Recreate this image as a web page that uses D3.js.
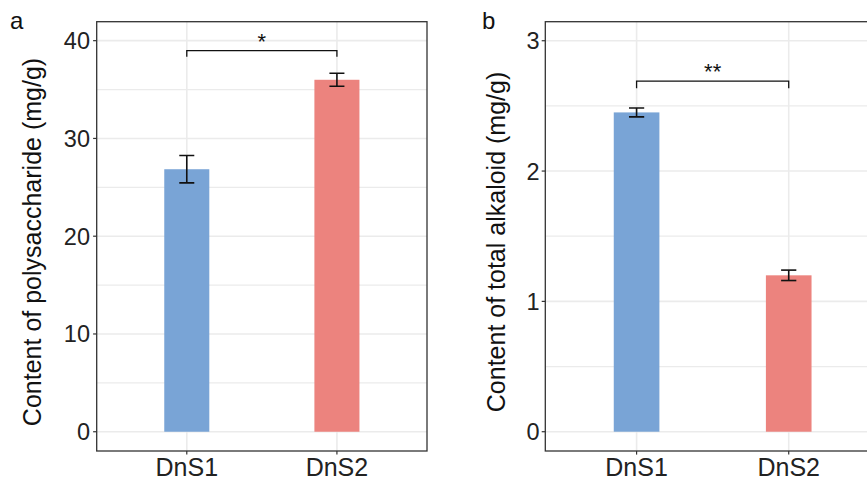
<!DOCTYPE html>
<html lang="en">
<head>
  <meta charset="UTF-8">
  <title>DnS1 vs DnS2 content</title>
  <script src="https://d3js.org/d3.v7.min.js"></script>
  <style>
    * { margin: 0; padding: 0; box-sizing: border-box; }
    body { width: 867px; height: 480px; background: #fff; overflow: hidden; }
    svg { font-family: "Liberation Sans", Arial, sans-serif; }
  </style>
</head>
<body>
  <div id="chart"></div>

  <script>
    // Data
    const categories = ['DnS1', 'DnS2'];
    const barColors = ['#79a4d6', '#ec837e'];

    const polyMean = [26.85, 36.0];
    const polySE = [1.4, 0.66];
    const polyTicks = [0, 10, 20, 30, 40];

    const alkMean = [2.45, 1.20];
    const alkSE = [0.034, 0.04];
    const alkTicks = [0, 1, 2, 3];

    const panels = [
      { tag: 'a', title: 'Content of polysaccharide (mg/g)', mean: polyMean, se: polySE, ticks: polyTicks,
        domain: [-1.97, 41.94], sig: '*', bracketY: 38.98, bracketDrop: 0.62,
        x0: 96.7, x1: 427, labelX: 10, titleX: 41, tickX: 90 },
      { tag: 'b', title: 'Content of total alkaloid (mg/g)', mean: alkMean, se: alkSE, ticks: alkTicks,
        domain: [-0.148, 3.146], sig: '**', bracketY: 2.69, bracketDrop: 0.055,
        x0: 545.3, x1: 880, labelX: 482, titleX: 505, tickX: 539.5 }
    ];

    const width = 867, height = 480;
    const plotTop = 21.7, plotBottom = 451;

    const svg = d3.select('#chart').append('svg')
      .attr('width', width)
      .attr('height', height);

    panels.forEach(p => {
      const g = svg.append('g');

      const x = d3.scalePoint().domain(categories).range([p.x0, p.x1]).padding(0.6);
      const y = d3.scaleLinear().domain(p.domain).range([plotBottom, plotTop]);
      const step = x.step();

      // clip so the right panel runs off the edge like the original
      const clipId = 'clip-' + p.tag;
      g.append('clipPath').attr('id', clipId)
        .append('rect').attr('x', p.x0).attr('y', plotTop).attr('width', p.x1 - p.x0).attr('height', plotBottom - plotTop);
      const plot = g.append('g').attr('clip-path', `url(#${clipId})`);

      // minor grid
      const minor = p.ticks.slice(0, -1).map((t, i) => (t + p.ticks[i + 1]) / 2);
      plot.selectAll('.minor').data(minor).enter().append('line')
        .attr('x1', p.x0).attr('x2', p.x1)
        .attr('y1', d => y(d)).attr('y2', d => y(d))
        .attr('stroke', '#ebebeb').attr('stroke-width', 1.3);

      // major grid
      plot.selectAll('.major').data(p.ticks).enter().append('line')
        .attr('x1', p.x0).attr('x2', p.x1)
        .attr('y1', d => y(d)).attr('y2', d => y(d))
        .attr('stroke', '#ebebeb').attr('stroke-width', 1.6);
      plot.selectAll('.vgrid').data(categories).enter().append('line')
        .attr('x1', d => x(d)).attr('x2', d => x(d))
        .attr('y1', plotTop).attr('y2', plotBottom)
        .attr('stroke', '#ebebeb').attr('stroke-width', 1.6);

      // bars
      const bw = step * 0.3;
      plot.selectAll('.bar').data(categories).enter().append('rect')
        .attr('x', d => x(d) - bw / 2)
        .attr('width', bw)
        .attr('y', (d, i) => y(p.mean[i]))
        .attr('height', (d, i) => y(0) - y(p.mean[i]))
        .attr('fill', (d, i) => barColors[i]);

      // error bars
      const cw = step * 0.1;
      categories.forEach((c, i) => {
        const hi = y(p.mean[i] + p.se[i]), lo = y(p.mean[i] - p.se[i]);
        const eb = plot.append('g').attr('stroke', '#111').attr('stroke-width', 1.6);
        eb.append('line').attr('x1', x(c)).attr('x2', x(c)).attr('y1', hi).attr('y2', lo);
        eb.append('line').attr('x1', x(c) - cw / 2).attr('x2', x(c) + cw / 2).attr('y1', hi).attr('y2', hi);
        eb.append('line').attr('x1', x(c) - cw / 2).attr('x2', x(c) + cw / 2).attr('y1', lo).attr('y2', lo);
      });

      // significance bracket
      const bx1 = x(categories[0]), bx2 = x(categories[1]);
      const by = y(p.bracketY), byd = y(p.bracketY - p.bracketDrop);
      plot.append('path')
        .attr('d', `M${bx1},${byd}V${by}H${bx2}V${byd}`)
        .attr('fill', 'none').attr('stroke', '#111').attr('stroke-width', 1.3);
      plot.append('text')
        .attr('x', (bx1 + bx2) / 2).attr('y', by - 2)
        .attr('text-anchor', 'middle')
        .attr('font-size', 22).attr('fill', '#111')
        .text(p.sig);

      // panel border
      g.append('rect')
        .attr('x', p.x0).attr('y', plotTop).attr('width', p.x1 - p.x0).attr('height', plotBottom - plotTop)
        .attr('fill', 'none').attr('stroke', '#333').attr('stroke-width', 1.3);

      // y axis ticks + labels
      g.selectAll('.ytick').data(p.ticks).enter().append('line')
        .attr('x1', p.x0 - 3.6).attr('x2', p.x0)
        .attr('y1', d => y(d)).attr('y2', d => y(d))
        .attr('stroke', '#333').attr('stroke-width', 1.2);
      g.selectAll('.ylab').data(p.ticks).enter().append('text')
        .attr('x', p.tickX).attr('y', d => y(d))
        .attr('dy', '0.36em')
        .attr('text-anchor', 'end')
        .attr('font-size', 23.5).attr('fill', '#222')
        .text(d => d);

      // x axis ticks + labels
      g.selectAll('.xtick').data(categories).enter().append('line')
        .attr('x1', d => x(d)).attr('x2', d => x(d))
        .attr('y1', plotBottom).attr('y2', plotBottom + 3.6)
        .attr('stroke', '#333').attr('stroke-width', 1.2);
      g.selectAll('.xlab').data(categories).enter().append('text')
        .attr('x', d => x(d)).attr('y', 475.5)
        .attr('text-anchor', 'middle')
        .attr('font-size', 25).attr('fill', '#222')
        .text(d => d);

      // y title
      g.append('text')
        .attr('transform', `translate(${p.titleX},242) rotate(-90)`)
        .attr('text-anchor', 'middle')
        .attr('font-size', 25).attr('fill', '#111')
        .text(p.title);

      // panel tag
      g.append('text')
        .attr('x', p.labelX).attr('y', 29)
        .attr('font-size', 24).attr('fill', '#111')
        .text(p.tag);
    });
  </script>
</body>
</html>
